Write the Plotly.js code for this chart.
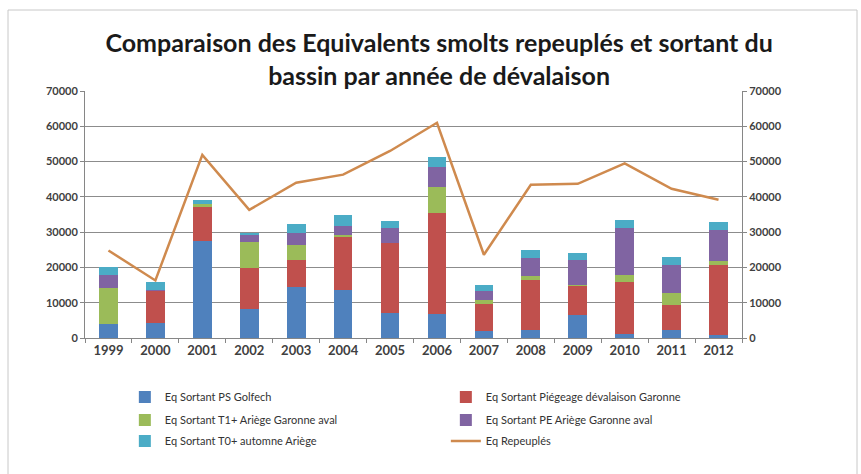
<!DOCTYPE html>
<html>
<head>
<meta charset="utf-8">
<script src="https://cdn.plot.ly/plotly-3.0.1.min.js"></script>
<style>
  html, body { margin: 0; padding: 0; background: #fff; }
  #chart { width: 861px; height: 474px; }
</style>
</head>
<body>
<div id="chart"></div>
<script>
// Years of downstream migration
let years = ["1999", "2000", "2001", "2002", "2003", "2004", "2005",
             "2006", "2007", "2008", "2009", "2010", "2011", "2012"];

// Stacked series (smolt equivalents leaving the basin)
let psGolfech   = [4000, 4200, 27400, 8200, 14400, 13500, 7100, 6900, 1900, 2200, 6600, 1200, 2400, 900];
let piegeage    = [0, 9000, 9700, 11600, 7600, 15100, 19800, 28500, 7800, 14300, 8000, 14800, 7000, 19900];
let t1Ariege    = [10100, 0, 900, 7300, 4400, 600, 0, 7500, 1000, 1000, 500, 1900, 3300, 1100];
let peAriege    = [3800, 500, 0, 2200, 3300, 2600, 4200, 5700, 2500, 5100, 7100, 13200, 8100, 8800];
let t0Automne   = [2200, 2300, 1100, 600, 2700, 3100, 2200, 2600, 1900, 2400, 1900, 2400, 2100, 2300];

// Line series (restocked equivalents)
let repeuples   = [24800, 16300, 51900, 36300, 44000, 46300, 53000, 61000, 23600, 43400, 43700, 49500, 42300, 39200];

let font = "Lato, 'Open Sans', sans-serif";

function barTrace(values, name, color, legend) {
    return {
        x: years,
        y: values,
        name: name,
        type: "bar",
        marker: { color: color },
        legend: legend
    };
}

let data = [
    barTrace(psGolfech, "Eq Sortant PS Golfech", "#4F81BD", "legend"),
    barTrace(piegeage, "Eq Sortant Piégeage dévalaison Garonne", "#C0504D", "legend"),
    barTrace(t1Ariege, "Eq Sortant T1+ Ariège Garonne aval", "#9BBB59", "legend2"),
    barTrace(peAriege, "Eq Sortant PE Ariège Garonne aval", "#8064A2", "legend2"),
    barTrace(t0Automne, "Eq Sortant T0+ automne Ariège", "#4BACC6", "legend3"),
    {
        x: years,
        y: repeuples,
        name: "Eq Repeuplés",
        type: "scatter",
        mode: "lines",
        yaxis: "y2",
        line: { color: "#CF8A4E", width: 2.5 },
        legend: "legend3"
    }
];

// one legend per row so the row spacing can follow the picture
function legendRow(y) {
    return {
        orientation: "h",
        traceorder: "normal",
        xref: "container",
        yref: "container",
        x: 0.145,
        y: y,
        yanchor: "middle",
        entrywidth: 276,
        font: { family: font, size: 11, color: "#333333" },
        bgcolor: "rgba(0,0,0,0)"
    };
}

let axisFont = { family: font, size: 11, color: "#404040", weight: "bold" };

let layout = {
    width: 861,
    height: 474,
    title: {
        text: "Comparaison des Equivalents smolts repeuplés et sortant du<br>bassin par année de dévalaison",
        font: { family: font, size: 25, color: "#1a1a1a", weight: "bold" },
        x: 0.51,
        xanchor: "center",
        y: 0.89,
        yanchor: "top"
    },
    barmode: "stack",
    bargap: 0.6,
    showlegend: true,
    legend: legendRow(1 - 397 / 474),
    legend2: legendRow(1 - 420 / 474),
    legend3: legendRow(1 - 441 / 474),
    xaxis: {
        type: "category",
        tickson: "boundaries",
        ticks: "outside",
        ticklen: 4,
        tickcolor: "#868686",
        showline: true,
        linecolor: "#868686",
        tickfont: { family: font, size: 13, color: "#404040", weight: "bold" },
        fixedrange: true
    },
    yaxis: {
        range: [0, 70000],
        dtick: 10000,
        ticks: "outside",
        ticklen: 4,
        tickcolor: "#868686",
        showline: true,
        linecolor: "#868686",
        gridcolor: "#8c8c8c",
        gridwidth: 1,
        zeroline: false,
        tickfont: axisFont,
        tickformat: "d",
        fixedrange: true
    },
    yaxis2: {
        overlaying: "y",
        side: "right",
        range: [0, 70000],
        dtick: 10000,
        ticks: "outside",
        ticklen: 4,
        tickcolor: "#868686",
        showline: true,
        linecolor: "#868686",
        showgrid: false,
        zeroline: false,
        tickfont: axisFont,
        tickformat: "d",
        fixedrange: true
    },
    margin: { l: 85, r: 119, t: 91, b: 136 },
    paper_bgcolor: "#ffffff",
    plot_bgcolor: "#ffffff",
    shapes: [{
        type: "rect",
        xref: "paper",
        yref: "paper",
        x0: (8 - 85) / 657,
        x1: (857 - 85) / 657,
        y0: (136 - 470) / 247,
        y1: (474 - 10 - 136) / 247,
        line: { color: "#c8c8c8", width: 1 },
        layer: "below"
    }]
};

Plotly.newPlot("chart", data, layout, { displayModeBar: false, staticPlot: true });
</script>
</body>
</html>
